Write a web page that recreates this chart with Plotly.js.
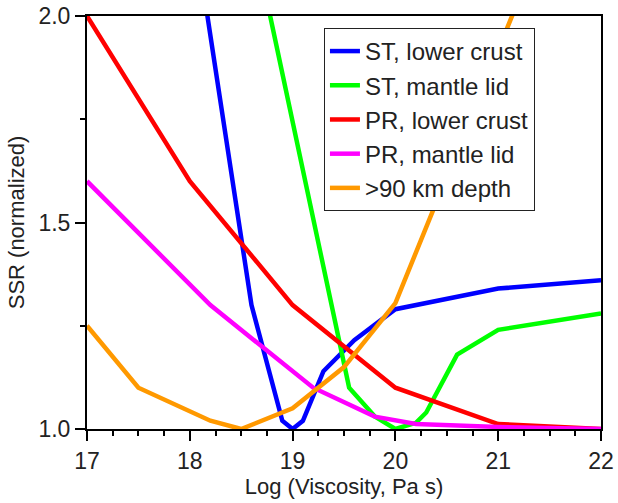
<!DOCTYPE html>
<html>
<head>
<meta charset="utf-8">
<script src="https://cdn.plot.ly/plotly-3.0.1.min.js"></script>
<style>html,body{margin:0;padding:0;background:#fff;}#chart{width:618px;height:503px;}</style>
</head>
<body>
<div id="chart"></div>
<script>
// Series names
const seriesNames = ["ST, lower crust", "ST, mantle lid", "PR, lower crust", "PR, mantle lid", ">90 km depth"];
const seriesColors = ["#0000FF", "#00FF00", "#FF0000", "#FF00FF", "#FF9900"];

// ST, lower crust
const stLowerX = [18.0, 18.6, 18.9, 19.0, 19.1, 19.3, 19.6, 20.0, 21.0, 22.0];
const stLowerY = [2.28, 1.30, 1.02, 1.00, 1.02, 1.14, 1.215, 1.29, 1.34, 1.36];
// ST, mantle lid
const stMantleX = [18.5, 19.0, 19.55, 19.8, 20.0, 20.2, 20.3, 20.6, 21.0, 22.0];
const stMantleY = [2.33, 1.74, 1.10, 1.03, 1.00, 1.015, 1.04, 1.18, 1.24, 1.28];
// PR, lower crust
const prLowerX = [17, 18, 19, 20, 21, 22];
const prLowerY = [2.0, 1.6, 1.3, 1.1, 1.012, 1.0];
// PR, mantle lid
const prMantleX = [17, 18.2, 19.2, 19.8, 20.2, 21, 22];
const prMantleY = [1.6, 1.3, 1.1, 1.03, 1.012, 1.005, 1.0];
// >90 km depth
const deepX = [17, 17.5, 18.2, 18.5, 19, 19.5, 20, 21, 22];
const deepY = [1.25, 1.10, 1.02, 1.0, 1.05, 1.15, 1.305, 1.92, 2.53];

const xs = [stLowerX, stMantleX, prLowerX, prMantleX, deepX];
const ys = [stLowerY, stMantleY, prLowerY, prMantleY, deepY];

const traces = seriesNames.map((n, i) => ({
  type: "scatter", mode: "lines", name: n,
  x: xs[i], y: ys[i],
  line: {color: seriesColors[i], width: 4.5}
}));

const fam = "Liberation Sans, Arial, sans-serif";
const tickFont = {family: fam, size: 23, color: "#222"};
const titleFont = {family: fam, size: 22, color: "#222"};

const layout = {
  width: 618, height: 503,
  margin: {l: 87, r: 17, t: 16, b: 74},
  paper_bgcolor: "#fff", plot_bgcolor: "#fff",
  font: titleFont,
  showlegend: true,
  legend: {
    x: 0.461, y: 0.971, xanchor: "left", yanchor: "top",
    bgcolor: "#fff", bordercolor: "#222", borderwidth: 1,
    font: {family: fam, size: 24, color: "#222"},
    tracegroupgap: 0
  },
  xaxis: {
    range: [17, 22], tickmode: "linear", tick0: 17, dtick: 1,
    showgrid: false, zeroline: false,
    showline: true, linecolor: "#000", linewidth: 2, mirror: true,
    ticks: "outside", ticklen: 10, tickwidth: 2, tickcolor: "#000",
    minor: {dtick: 0.25, ticks: "outside", ticklen: 5, tickwidth: 2, tickcolor: "#000", showgrid: false},
    tickfont: tickFont,
    title: {text: "Log (Viscosity, Pa s)", font: titleFont, standoff: 6}
  },
  yaxis: {
    range: [1, 2], tickmode: "linear", tick0: 1, dtick: 0.5, tickformat: ".1f",
    showgrid: false, zeroline: false,
    showline: true, linecolor: "#000", linewidth: 2, mirror: true,
    ticks: "outside", ticklen: 10, tickwidth: 2, tickcolor: "#000",
    minor: {dtick: 0.25, ticks: "outside", ticklen: 5, tickwidth: 2, tickcolor: "#000", showgrid: false},
    tickfont: tickFont,
    title: {text: "SSR (normalized)", font: titleFont, standoff: 8}
  }
};

Plotly.newPlot("chart", traces, layout, {displayModeBar: false, staticPlot: true});
</script>
</body>
</html>
